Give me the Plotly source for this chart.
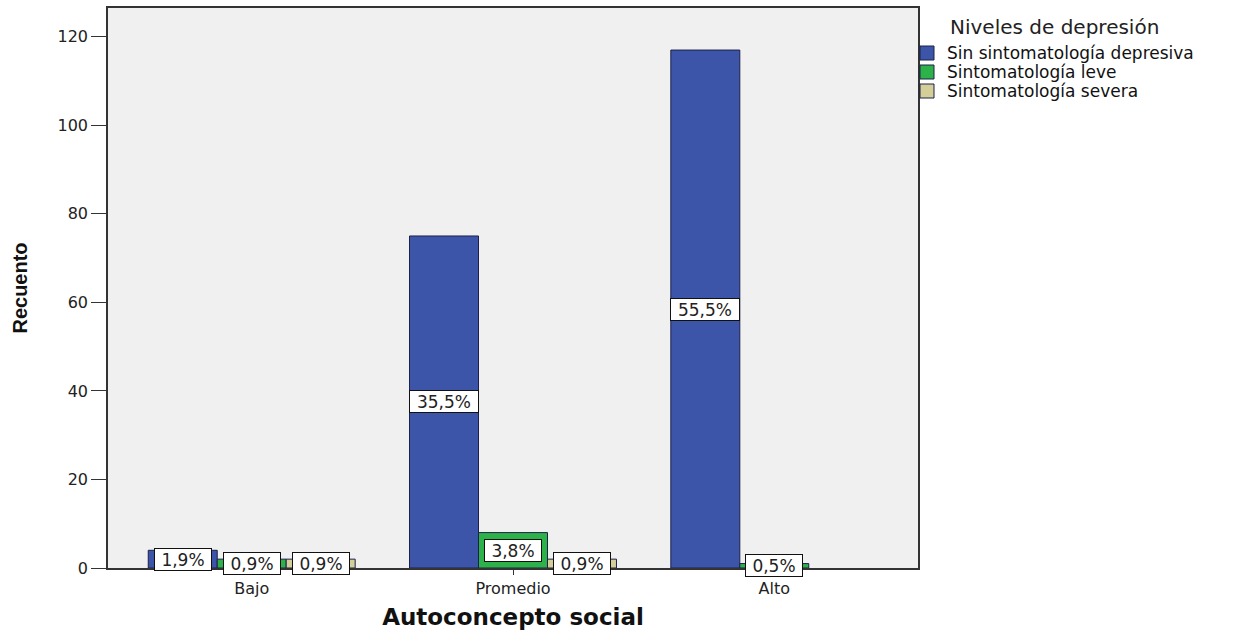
import plotly.graph_objects as go

# Counts per social self-concept level and depression level
categories = ["Bajo", "Promedio", "Alto"]
series_names = ["Sin sintomatología depresiva", "Sintomatología leve", "Sintomatología severa"]
sin_sintomas = [4, 75, 117]
leve = [2, 8, 1]
severa = [2, 2, 0]
y_ticks = [0, 20, 40, 60, 80, 100, 120]

colors = ["#3d55a8", "#2db24a", "#d4cf98"]
series_values = [sin_sintomas, leve, severa]
total = sum(sum(v) for v in series_values)

# Figure geometry (pixels)
W, H = 1234, 631
ML, MR, MT, MB = 108, 316, 8, 63
PW, PH = W - ML - MR, H - MT - MB


def px_x(px):
    return (px - ML) / PW


def px_y(py):
    return 1 - (py - MT) / PH


label_font = dict(family="DejaVu Sans, Verdana", size=17, color="#222")

bar_w = 0.264
fig = go.Figure()
for j, (name, vals, col) in enumerate(zip(series_names, series_values, colors)):
    xs = [i + (j - 1) * bar_w for i in range(len(categories))]
    fig.add_trace(go.Bar(
        x=xs, y=[v if v > 0 else None for v in vals], name=name, width=bar_w,
        marker=dict(color=col, line=dict(color="#1c2048", width=1)),
        hoverinfo="skip", showlegend=False,
    ))
    for x, v in zip(xs, vals):
        if v <= 0:
            continue
        pct = f"{v / total * 100:.1f}%".replace(".", ",")
        fig.add_annotation(
            x=x, y=v / 2, xref="x", yref="y", text=pct, showarrow=False,
            font=label_font, width=54 if len(pct) < 5 else 66, height=19,
            bgcolor="white", bordercolor="#111", borderwidth=1, borderpad=1,
        )

# Legend: heading, colour swatches and series names
fig.add_annotation(
    x=px_x(948), y=px_y(27), xref="paper", yref="paper", xanchor="left", yanchor="middle",
    text="Niveles de depresión", showarrow=False,
    font=dict(family="DejaVu Sans, Verdana", size=20, color="#222"),
)
row_y = [53, 72, 91]
for name, col, ry in zip(series_names, colors, row_y):
    fig.add_shape(
        type="rect", xref="paper", yref="paper",
        x0=px_x(920), x1=px_x(934), y0=px_y(ry + 7), y1=px_y(ry - 7),
        fillcolor=col, line=dict(color="#1c2048", width=1),
    )
    fig.add_annotation(
        x=px_x(945), y=px_y(ry), xref="paper", yref="paper", xanchor="left", yanchor="middle",
        text=name, showarrow=False,
        font=dict(family="DejaVu Sans, Verdana", size=17, color="#111"),
    )

fig.update_layout(
    width=W, height=H,
    margin=dict(l=ML, r=MR, t=MT, b=MB),
    paper_bgcolor="white", plot_bgcolor="#f0f0f0",
    barmode="overlay", showlegend=False,
    xaxis=dict(
        range=[-0.55, 2.55], tickmode="array", tickvals=list(range(len(categories))),
        ticktext=categories, ticks="outside", ticklen=5, tickcolor="#333",
        showline=True, linecolor="#333", linewidth=1.5, mirror=True,
        showgrid=False, zeroline=False, automargin=False,
        tickfont=dict(family="DejaVu Sans, Verdana", size=16, color="#222"),
        title=dict(text="<b>Autoconcepto social</b>", standoff=12,
                   font=dict(family="DejaVu Sans, Verdana", size=23, color="#111")),
    ),
    yaxis=dict(
        range=[0, 126.5], tickmode="array", tickvals=y_ticks,
        ticks="outside", ticklen=15, tickcolor="#333",
        showline=True, linecolor="#333", linewidth=1.5, mirror=True,
        showgrid=False, zeroline=False, automargin=False,
        tickfont=dict(family="DejaVu Sans, Verdana", size=16, color="#222"),
        title=dict(text="<b>Recuento</b>", standoff=25,
                   font=dict(family="Liberation Sans Narrow, Arial Narrow, Liberation Sans", size=20, color="#111")),
    ),
)

fig.write_html("out.html")
